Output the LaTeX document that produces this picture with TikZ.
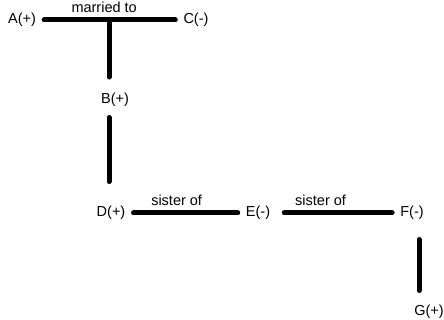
\documentclass[tikz,border=0pt]{standalone}
\usepackage{fontspec}
\setmainfont{Liberation Sans}
\usetikzlibrary{positioning,calc}

\begin{document}
\begin{tikzpicture}[x=1pt,y=-1pt,
  person/.style={inner sep=4pt, font=\fontsize{14.5}{17}\selectfont},
  bond/.style={line width=5pt, line cap=round},
  link/.style={bond, shorten >=4pt, shorten <=4pt},
  rel/.style={above, inner sep=4.5pt, font=\fontsize{14.5}{17}\selectfont}]
  \useasboundingbox (0,0) rectangle (444,320);

  % People
  \node[person] (A) at (22,20) {A(+)};
  \node[person] (C) at (196,20) {C(-)};
  \node[person] (B) at (115,100) {B(+)};
  \node[person] (D) at (111,213) {D(+)};
  \node[person] (E) at (258,213) {E(-)};
  \node[person] (F) at (412,213) {F(-)};
  \node[person] (G) at (429,312) {G(+)};

  % Relations
  \draw[link] (A) -- node[rel, pos=0.46] {married to} (C);
  \draw[link] (D) -- node[rel, pos=0.42] {sister of} (E);
  \draw[link, shorten <=10pt] (E) -- node[rel, pos=0.38] {sister of} (F);

  % Descent lines
  \coordinate (T) at ($(A)!0.5!(C)$);
  \draw[bond] (T) -- ([yshift=12pt]T |- B.north);
  \draw[bond] ([yshift=-6.5pt]T |- B.south) -- ([yshift=20.5pt]T |- D.north);
  \draw[bond] ([xshift=7pt,yshift=-15.5pt]F.south) -- ([xshift=-10pt,yshift=10.5pt]G.north);
\end{tikzpicture}
\end{document}
